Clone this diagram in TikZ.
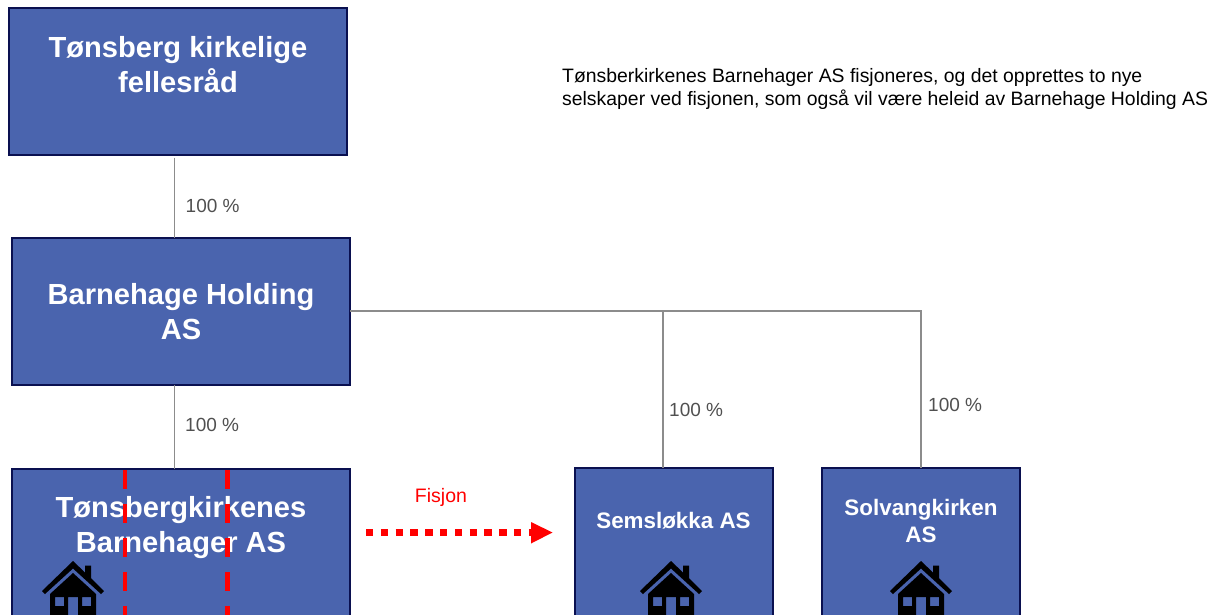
\documentclass[tikz,border=0pt]{standalone}
\usepackage{fontspec}
\setmainfont{Liberation Sans}
\definecolor{boxfill}{HTML}{4A64AE}
\definecolor{boxline}{HTML}{0A1050}
\definecolor{conn}{HTML}{8C8C8C}
\definecolor{pct}{HTML}{505050}
\definecolor{redline}{HTML}{FF0000}
\tikzset{
  x=1pt,y=-1pt,
  orgbox/.style={draw=boxline,fill=boxfill,line width=2.6pt,outer sep=0pt,minimum width=#1,anchor=north west,inner sep=0pt,minimum height=190pt},
  tallbox/.style={draw=boxline,fill=boxfill,line width=2.6pt,outer sep=0pt,minimum width=338pt,minimum height=147pt,anchor=north west,inner sep=0pt},
  title/.style={text=white,font=\bfseries\fontsize{29.1}{35}\selectfont,align=center,inner sep=0pt,anchor=center},
  subtitle/.style={text=white,font=\bfseries\fontsize{22.4}{27}\selectfont,align=center,inner sep=0pt,anchor=center},
  pctlabel/.style={text=pct,font=\fontsize{19}{23}\selectfont,inner sep=0pt,anchor=west},
  connector/.style={draw=conn,line width=1.2pt},
  cutline/.style={draw=redline,line width=4.5pt,dash pattern=on 19pt off 15pt},
  note/.style={font=\fontsize{19.4}{23}\selectfont,align=left,inner sep=0pt,anchor=west},
  pics/house/.style={code={
    \fill[black] (-31,30) -- (0,0) -- (12,11.5) -- (12,4.5) -- (18,4.5) -- (18,17.2) -- (31,30) -- (28,33) -- (0,7.5) -- (-28,33) -- cycle;
    \fill[black,even odd rule] (0,12) -- (23,33) -- (23,60) -- (5,60) -- (5,36) -- (-5,36) -- (-5,60) -- (-23,60) -- (-23,33) -- cycle
      (-18,36) rectangle (-9,45) (9,36) rectangle (18,45);
  }}
}
\begin{document}
\begin{tikzpicture}
\useasboundingbox (0,0) rectangle (1224,614);
\clip (0,0) rectangle (1224,614);
\node[tallbox] (fell) at (9,8) {};
\node[tallbox] (hold) at (12,238) {};
\node[orgbox=338pt] (tons) at (12,469) {};
\node[orgbox=198pt] (sems) at (575,468) {};
\node[orgbox=198pt] (solv) at (822,468) {};
\coordinate (holdE) at (hold.east |- 0,311);
\coordinate (semsN) at (663,468);
\coordinate (solvN) at (921,468);
\coordinate (fellS) at (174.5,157.5);
\coordinate (holdN) at (174.5,238);
\coordinate (holdS) at (174.5,385);
\coordinate (tonsN) at (174.5,469);
\draw[connector] (fellS) -- (holdN);
\draw[connector] (holdS) -- (tonsN);
\draw[connector] (holdE) -- (solvN |- holdE) -- (solvN);
\draw[connector] (semsN |- holdE) -- (semsN);
\node[title] (t1) at (178,64.5) {Tønsberg kirkelige\\fellesråd};
\node[title] (t2) at (181,311.5) {Barnehage Holding\\AS};
\node[title] (t3) at (181,528) {Tønsbergkirkenes\\Barnehager AS};
\node[subtitle] (t4) at (673.5,520.5) {Semsløkka AS};
\node[subtitle] (t5) at (921,521) {Solvangkirken\\AS};
\node[pctlabel] (p1) at (185.5,206) {100 \%};
\node[pctlabel] (p2) at (185,425) {100 \%};
\node[pctlabel] (p3) at (669,410) {100 \%};
\node[pctlabel] (p4) at (928,405) {100 \%};
\node[note] (n) at (562,88.5) {Tønsberkirkenes Barnehager AS fisjoneres, og det opprettes to nye\\selskaper ved fisjonen, som også vil være heleid av Barnehage Holding AS};
\node[text=redline,font=\fontsize{19.5}{22}\selectfont,inner sep=0pt] (fis) at (441,497.5) {Fisjon};
\pic at (73,561) {house};
\pic at (671,561) {house};
\pic at (921,561) {house};
\coordinate (c1a) at (125,470);\coordinate (c1b) at (125,620);
\coordinate (c2a) at (227.5,470);\coordinate (c2b) at (227.5,620);
\draw[cutline] (c1a) -- (c1b);
\draw[cutline] (c2a) -- (c2b);
\coordinate (arrA) at (366,532.5);\coordinate (arrB) at (533,532.5);\coordinate (arrT) at (552.5,532.5);
\draw[draw=redline,line width=7pt,dash pattern=on 7.3pt off 7.5pt] (arrA) -- (arrB);
\fill[redline] (arrT) -- (531,522) -- (531,543.5) -- cycle;
\end{tikzpicture}
\end{document}
